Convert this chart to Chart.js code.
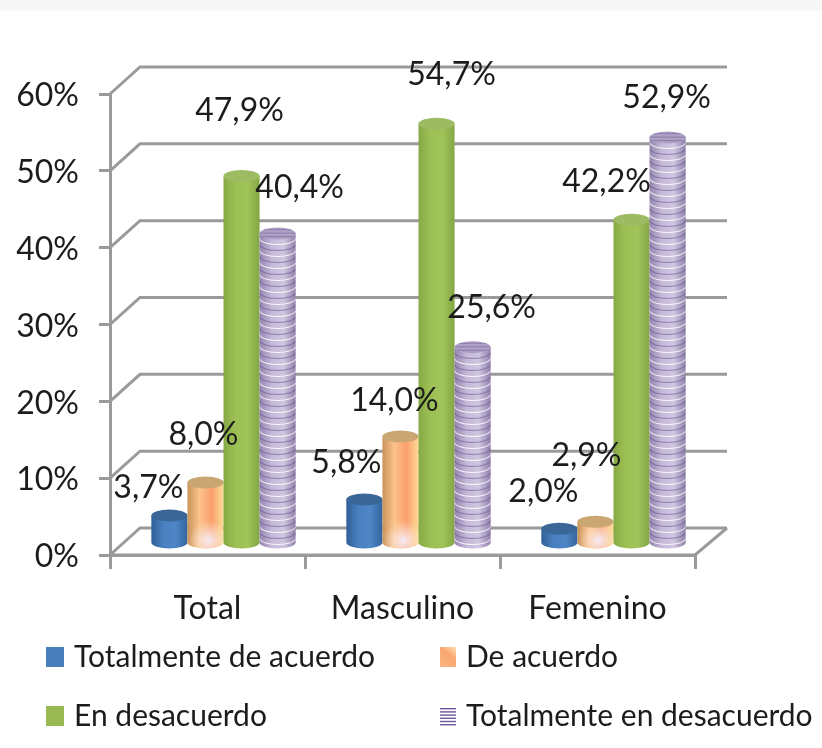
<!DOCTYPE html>
<html><head><meta charset="utf-8">
<style>html,body{margin:0;padding:0;background:#fff}#w{width:822px;height:748px;overflow:hidden}canvas{display:block;filter:blur(0.55px)}</style>
<script src="https://cdn.jsdelivr.net/npm/chart.js@4/dist/chart.umd.min.js"></script>
</head><body><div id="w"><canvas id="c" width="822" height="748"></canvas></div>
<script>
const categories = ['Total', 'Masculino', 'Femenino'];
const seriesNames = ['Totalmente de acuerdo', 'De acuerdo', 'En desacuerdo', 'Totalmente en desacuerdo'];
const totalmenteDeAcuerdo = [3.7, 5.8, 2.0];
const deAcuerdo = [8.0, 14.0, 2.9];
const enDesacuerdo = [47.9, 54.7, 42.2];
const totalmenteEnDesacuerdo = [40.4, 25.6, 52.9];
const yTicks = [0, 10, 20, 30, 40, 50, 60];

const FONT = 'Lato,"Open Sans",sans-serif';
const INK = '#1c1c1c', WALL = '#9a9a9a';
const DX = 16, DY = -11;
const WX = 30, WY = 27;
const labelShift = [
  [[-21,-28],[-18,-37],[-16,-37]],
  [[-2,-48],[-6,-36],[-9,-66]],
  [[-2,-65],[15,-49],[-25,-38]],
  [[22,-46],[19,-40],[-1,-40]]
];
const looks = [
  {stops:['#2f5f97','#4a80c0','#4f86c6','#34659e'], top:'#3a6797'},
  {stops:['#c8935c','#fcc38a','#fa9f6e','#fedc94'], top:'#c9a672', glow:true},
  {stops:['#86a945','#9dc055','#a0c35a','#84a644'], top:'#9dbb63'},
  {stops:['#9384ae','#c4b9d8','#cfc6e0','#8f80aa'], top:'#aca0c5', stripes:true}
];

function cylinder(ctx, x, top, base, w, look) {
  const l = x - w/2, r = x + w/2, ry = 6;
  const g = ctx.createLinearGradient(l, 0, r, 0);
  look.stops.forEach((s,i)=>g.addColorStop(i/(look.stops.length-1), s));
  ctx.beginPath();
  ctx.moveTo(l, top);
  ctx.lineTo(l, base);
  ctx.ellipse(x, base, w/2, ry, 0, Math.PI, 0, true);
  ctx.lineTo(r, top);
  ctx.closePath();
  ctx.fillStyle = g; ctx.fill();
  if (look.glow) {
    ctx.save(); ctx.clip();
    const h = ctx.createRadialGradient(x+3, base-2, 1, x+3, base-2, 20);
    h.addColorStop(0,'rgba(245,238,255,.9)'); h.addColorStop(1,'rgba(255,240,220,0)');
    ctx.fillStyle = h; ctx.fillRect(l, base-30, w, 40);
    ctx.restore();
  }
  if (look.stripes) {
    ctx.save(); ctx.clip();
    let n = 0;
    for (let y = base + 2; y > top - 2; y -= 6, n++) {
      ctx.beginPath(); ctx.ellipse(x, y, w/2, ry, 0, Math.PI, 0, true);
      ctx.strokeStyle = n % 2 ? 'rgba(255,255,255,.9)' : 'rgba(88,62,130,.5)';
      ctx.lineWidth = 1; ctx.stroke();
    }
    ctx.restore();
  }
  ctx.beginPath(); ctx.ellipse(x, top, w/2, ry, 0, 0, Math.PI*2);
  ctx.fillStyle = look.top; ctx.fill();
  if (look.stripes) {
    ctx.save(); ctx.clip();
    ctx.strokeStyle='rgba(88,62,130,.35)'; ctx.lineWidth=1;
    for (let y=top-4;y<top+6;y+=3.5){ctx.beginPath();ctx.moveTo(l,y);ctx.lineTo(r,y);ctx.stroke();}
    ctx.restore();
  }
}

const walls = {
  id:'walls',
  beforeDraw(chart){
    const {ctx} = chart;
    ctx.save(); ctx.fillStyle='#f7f7f7'; ctx.fillRect(0,0,chart.width,11); ctx.restore();
  },
  beforeDatasetsDraw(chart){
    const {ctx, scales:{y}, chartArea:a} = chart;
    ctx.save();
    ctx.strokeStyle = WALL; ctx.lineWidth = 3; ctx.lineJoin='miter';
    yTicks.forEach(v=>{
      const p = y.getPixelForValue(v);
      ctx.beginPath();
      ctx.moveTo(a.left, p); ctx.lineTo(a.left+WX, p-WY); ctx.lineTo(a.right+WX+2, p-WY);
      if (v===0) { ctx.moveTo(a.left,p); ctx.lineTo(a.right,p); ctx.lineTo(a.right+WX+2,p-WY); }
      ctx.stroke();
    });
    ctx.restore();
  }
};
const cylinders = {
  id:'cylinders',
  afterDatasetsDraw(chart){
    const {ctx} = chart;
    ctx.save();
    chart.data.datasets.forEach((d,di)=>{
      chart.getDatasetMeta(di).data.forEach(b=>{
        cylinder(ctx, b.x+DX, b.y+DY, b.base+DY, b.width, looks[di]);
      });
    });
    ctx.fillStyle = INK; ctx.font = '32px '+FONT; ctx.textAlign='center'; ctx.textBaseline='middle';
    chart.data.datasets.forEach((d,di)=>{
      chart.getDatasetMeta(di).data.forEach((b,i)=>{
        const [ox,oy] = labelShift[di][i];
        ctx.fillText(d.data[i].toFixed(1).replace('.',',')+'%', b.x+DX+ox, b.y+DY+oy);
      });
    });
    ctx.restore();
  }
};
const legend2x2 = {
  id:'legend2x2',
  afterDraw(chart){
    const {ctx} = chart;
    const boxX = [46, 440], textX = [74, 466], rowY = [657, 716];
    seriesNames.forEach((name,i)=>{
      const c = i%2, x = boxX[c], y = rowY[Math.floor(i/2)], top = y-10;
      ctx.save();
      if (i===0) { ctx.fillStyle='#4a7ebb'; ctx.fillRect(x,top,18,20); }
      if (i===2) { ctx.fillStyle='#98b954'; ctx.fillRect(x,top,18,20); }
      if (i===1) { const o=ctx.createLinearGradient(x,top+20,x+16,top); o.addColorStop(0,'#fbb684'); o.addColorStop(.6,'#f9a76f'); o.addColorStop(1,'#fde0b8'); ctx.fillStyle=o; ctx.fillRect(x,top,16,20); }
      if (i===3) { ctx.fillStyle='#6f5a95'; for(let k=0;k<6;k++) ctx.fillRect(x,top+2+k*3.2,16,1.4); }
      ctx.fillStyle=INK; ctx.font='30px '+FONT; ctx.textBaseline='middle'; ctx.textAlign='left';
      ctx.fillText(name, textX[c], y);
      ctx.restore();
    });
  }
};

new Chart(document.getElementById('c'), {
  type:'bar',
  data:{labels:categories, datasets:[
    {label:seriesNames[0], data:totalmenteDeAcuerdo},
    {label:seriesNames[1], data:deAcuerdo},
    {label:seriesNames[2], data:enDesacuerdo},
    {label:seriesNames[3], data:totalmenteEnDesacuerdo}
  ].map(d=>({...d, backgroundColor:'transparent', categoryPercentage:0.74, barPercentage:1}))},
  plugins:[walls, cylinders, legend2x2],
  options:{
    responsive:false, animation:false,
    layout:{padding:{top:94, right:127, left:0, bottom:0}},
    plugins:{legend:{display:false}, tooltip:{enabled:false}, title:{display:false}},
    scales:{
      x:{ afterFit(s){s.height=193;},
        border:{color:WALL,width:3},
        grid:{drawOnChartArea:false, color:WALL, lineWidth:3, tickLength:14},
        ticks:{color:INK, font:{family:FONT,size:32}, padding:20, maxRotation:0}},
      y:{ min:0, max:60, afterFit(s){s.width=110;},
        afterBuildTicks(s){s.ticks = yTicks.map(v=>({value:v}));},
        border:{color:WALL,width:3},
        grid:{drawOnChartArea:false, color:WALL, lineWidth:3, tickLength:11},
        ticks:{color:INK, font:{family:FONT,size:32}, padding:20, labelOffset:2, callback:v=>v+'%'}}
    }
  }
});
</script></body></html>
